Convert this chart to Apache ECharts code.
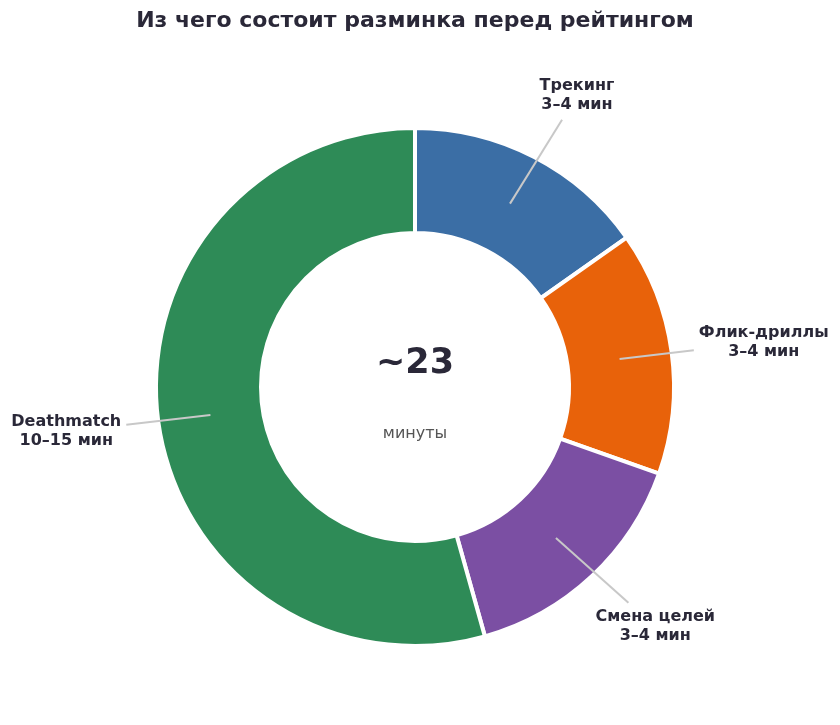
<!DOCTYPE html>
<html>
<head>
<meta charset="utf-8">
<script src="https://cdn.jsdelivr.net/npm/echarts@6/dist/echarts.min.js"></script>
<style>
  html, body { margin: 0; padding: 0; background: #fff; }
  #chart { width: 840px; height: 725px; }
</style>
</head>
<body>
<div id="chart"></div>
<script>
var names = ['Трекинг', 'Флик-дриллы', 'Смена целей', 'Deathmatch'];
var ranges = ['3–4 мин', '3–4 мин', '3–4 мин', '10–15 мин'];
var minutes = [3.5, 3.5, 3.5, 12.5];
var colors = ['#3b6ea5', '#e8620a', '#7b4fa3', '#2e8b57'];
var totalText = '~23';
var unitText = 'минуты';

var textColor = '#2a2838';
var font = '"DejaVu Sans", sans-serif';
var cx = 415, cy = 387;
var rOuter = 259, rInner = 154;
var ringMid = (rOuter + rInner) / 2;

var ringData = [];
var labelData = [];
for (var i = 0; i < names.length; i++) {
    ringData.push({
        name: names[i],
        value: minutes[i],
        itemStyle: { color: colors[i] }
    });
    labelData.push({
        name: names[i],
        value: minutes[i],
        label: { formatter: names[i] + '\n' + ranges[i] }
    });
}

// text centre on an ellipse round the ring, line from mid-ring towards it
function placeLabel(params) {
    var pts = params.labelLinePoints;
    if (!pts) return {};
    var p0 = pts[0], p1 = pts[1];
    var dx = p1[0] - p0[0], dy = p1[1] - p0[1];
    var len = Math.sqrt(dx * dx + dy * dy) || 1;
    dx /= len; dy /= len;
    var ox = p0[0] - dx * ringMid, oy = p0[1] - dy * ringMid;
    var c = [ox + 352 * dx, oy + 328 * dy];
    var lx = c[0] - p0[0], ly = c[1] - p0[1];
    var ll = Math.sqrt(lx * lx + ly * ly) || 1;
    lx /= ll; ly /= ll;
    var hw = params.labelRect.width / 2 + 5, hh = params.labelRect.height / 2 + 5;
    var t = Math.min(Math.abs(lx) > 1e-6 ? hw / Math.abs(lx) : 1e9,
                     Math.abs(ly) > 1e-6 ? hh / Math.abs(ly) : 1e9);
    var end = [c[0] - lx * t, c[1] - ly * t];
    return {
        x: c[0],
        y: c[1],
        align: 'center',
        verticalAlign: 'middle',
        labelLinePoints: [p0, end]
    };
}

var option = {
    animation: false,
    backgroundColor: '#fff',
    graphic: [{
        type: 'text',
        x: cx, y: 10,
        style: {
            text: 'Из чего состоит разминка перед рейтингом',
            font: 'bold 22px ' + font,
            fill: textColor,
            textAlign: 'center'
        }
    }, {
        type: 'text',
        x: cx, y: cy - 23,
        z: 10,
        style: {
            text: totalText,
            font: 'bold 35px ' + font,
            fill: textColor,
            textAlign: 'center',
            textVerticalAlign: 'middle'
        }
    }, {
        type: 'text',
        x: cx, y: cy + 47,
        z: 10,
        style: {
            text: unitText,
            font: '16px ' + font,
            fill: '#555555',
            textAlign: 'center',
            textVerticalAlign: 'middle'
        }
    }],
    series: [{
        type: 'pie',
        z: 2,
        center: [cx, cy],
        radius: [rInner, rOuter],
        startAngle: 90,
        clockwise: true,
        silent: true,
        itemStyle: { borderColor: '#fff', borderWidth: 4 },
        label: { show: false },
        labelLine: { show: false },
        emphasis: { disabled: true },
        data: ringData
    }, {
        // transparent helper ring that carries the labels and their lines
        type: 'pie',
        z: 3,
        center: [cx, cy],
        radius: [0, ringMid],
        startAngle: 90,
        clockwise: true,
        silent: true,
        avoidLabelOverlap: false,
        itemStyle: { color: 'rgba(0,0,0,0)', borderWidth: 0 },
        label: {
            show: true,
            position: 'outside',
            color: textColor,
            fontFamily: font,
            fontWeight: 'bold',
            fontSize: 16,
            lineHeight: 19,
            align: 'center'
        },
        labelLine: {
            show: true,
            length: 40,
            length2: 0,
            lineStyle: { color: '#c8c8c8', width: 2 }
        },
        labelLayout: placeLabel,
        emphasis: { disabled: true },
        data: labelData
    }]
};

var myChart = echarts.init(document.getElementById('chart'));
myChart.setOption(option);
window.onresize = myChart.resize;
</script>
</body>
</html>
